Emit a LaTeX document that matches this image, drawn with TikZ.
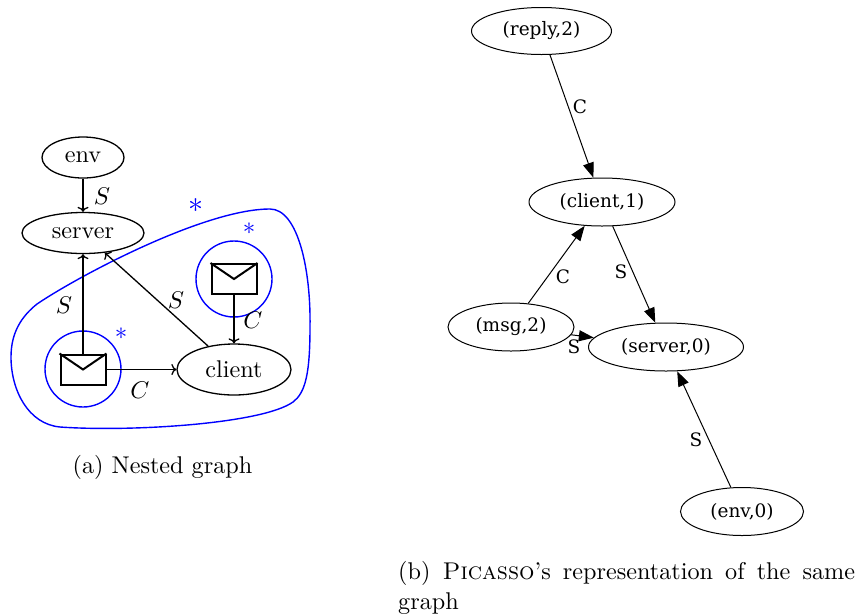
\documentclass[tikz,border=0pt]{standalone}
\usepackage{fontspec}
\usepackage{graphicx}
\usetikzlibrary{shapes.geometric,arrows.meta}
\newfontfamily\dvserif{DejaVu Serif}
\newcommand{\bigtxt}[1]{\scalebox{2.42}{#1}}
\tikzset{
 lnode/.style={draw,ellipse,inner sep=0pt,line width=1.3pt},
 rnode/.style={draw,ellipse,inner sep=0pt,line width=1pt,font=\dvserif\fontsize{18.5}{22}\selectfont},
 ledge/.style={line width=1.3pt,-{Computer Modern Rightarrow[length=5pt,width=11pt]}},
 redge/.style={line width=1pt,-{Triangle[length=15pt,width=11pt]}},
 mailbox/.style={draw,rectangle,line width=2pt,minimum width=45pt,minimum height=30pt,inner sep=0pt},
 ring/.style={draw=blue,circle,line width=1.4pt,minimum size=76pt,inner sep=0pt},
 lab/.style={inner sep=0pt},
 rlab/.style={inner sep=0pt,font=\dvserif\fontsize{18.5}{22}\selectfont},
 star/.style={inner sep=0pt,text=blue},
 captext/.style={inner sep=0pt}
}
\begin{document}
\begin{tikzpicture}[x=1pt,y=-1pt]
\useasboundingbox (0,0) rectangle (856,614);
% blob
\draw[blue,line width=1.4pt] (270,209) .. controls (298,209) and (311,270) .. (310,327)
 .. controls (310,375) and (305,393) .. (293,402)
 .. controls (262,424) and (130,432) .. (60,427)
 .. controls (28,424) and (11,390) .. (11,357)
 .. controls (11,332) and (22,316) .. (37,304)
 .. controls (80,275) and (205,209) .. (270,209) -- cycle;
% left graph
\node[lnode,minimum width=82pt,minimum height=41pt] (env) at (83,157.5) {\bigtxt{env}};
\node[lnode,minimum width=122pt,minimum height=41pt] (server) at (83,233) {\bigtxt{server}};
\node[lnode,minimum width=114pt,minimum height=51pt] (client) at (234,369.5) {\bigtxt{client}};
\node[ring] (r1) at (83,369) {};
\node[ring] (r2) at (234,279) {};
\node[mailbox] (m1) at (83,369.5) {};
\node[mailbox] (m2) at (234,279) {};
\draw[line width=2pt] (m1.north west) -- (m1.center) -- (m1.north east);
\draw[line width=2pt] (m2.north west) -- (m2.center) -- (m2.north east);
\draw[ledge] (env) -- (server);
\draw[ledge] (m1) -- (server);
\draw[ledge] (client) -- (server);
\draw[ledge] (m2) -- (client);
\draw[ledge] (m1) -- (client);
\node[lab] (s1) at (102,196) {\bigtxt{$S$}};
\node[lab] (s2) at (64,305) {\bigtxt{$S$}};
\node[lab] (s3) at (176,300) {\bigtxt{$S$}};
\node[lab] (c1) at (253,320) {\bigtxt{$C$}};
\node[lab] (c2) at (140,390) {\bigtxt{$C$}};
\node[star] (a1) at (196,206) {\scalebox{3}{$*$}};
\node[star] (a2) at (249,229) {\scalebox{2.5}{$*$}};
\node[star] (a3) at (121,334) {\scalebox{2.5}{$*$}};
\node[captext,anchor=base] (capa) at (162.5,473) {\bigtxt{(a) Nested graph}};
% right graph
\node[rnode,minimum width=140pt,minimum height=47pt] (reply) at (541.5,31) {(reply,2)};
\node[rnode,minimum width=146pt,minimum height=48pt] (cl) at (602,202) {(client,1)};
\node[rnode,minimum width=126pt,minimum height=48pt] (msg) at (511,327) {(msg,2)};
\node[rnode,minimum width=155pt,minimum height=48pt] (srv) at (666,347) {(server,0)};
\node[rnode,minimum width=123pt,minimum height=48pt] (en) at (742,511.5) {(env,0)};
\draw[redge] (reply) -- (cl);
\draw[redge] (msg) -- (cl);
\draw[redge] (cl) -- (srv);
\draw[redge] (msg) -- (srv);
\draw[redge] (en) -- (srv);
\node[rlab] (lc1) at (580,107) {C};
\node[rlab] (lc2) at (563,277) {C};
\node[rlab] (ls1) at (621,272) {S};
\node[rlab] (ls2) at (574,347) {S};
\node[rlab] (ls3) at (696,440) {S};
\node[captext,anchor=base west] (capb) at (398,579) {\bigtxt{\parbox[t]{188.8pt}{\baselineskip=12.4pt (b) \textsc{Picasso}'s representation of the same graph}}};
\end{tikzpicture}
\end{document}
